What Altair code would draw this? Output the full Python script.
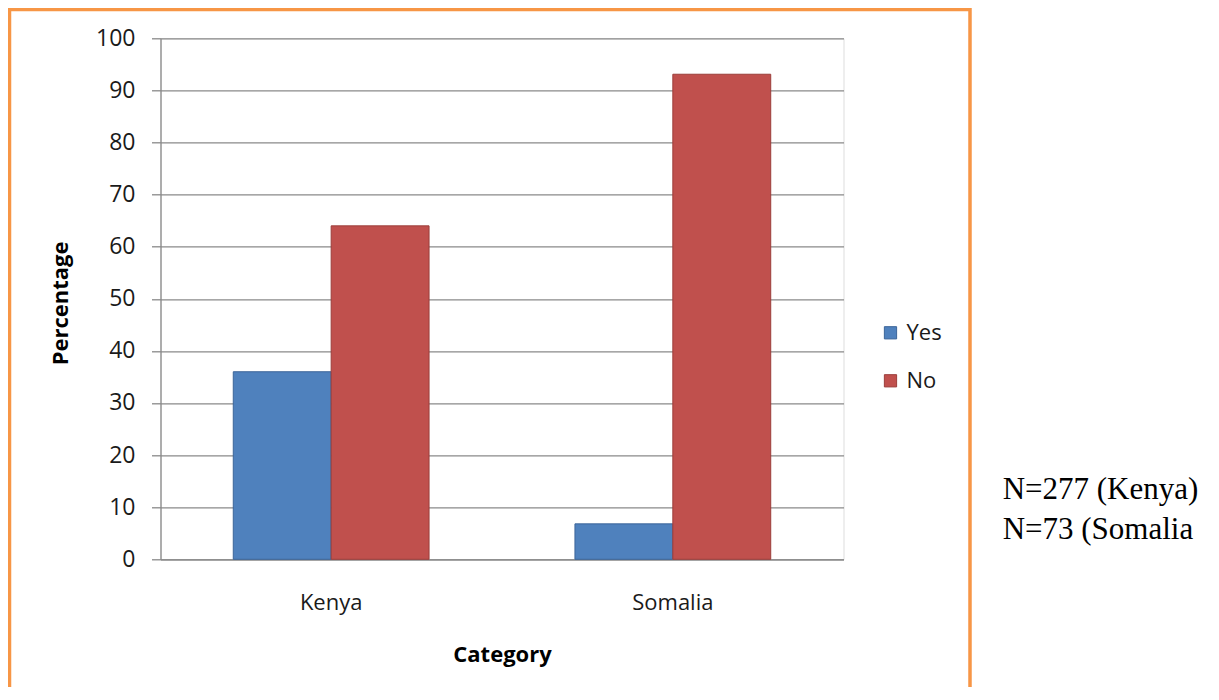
import altair as alt
import pandas as pd

categories = ["Kenya", "Somalia"]
answers = ["Yes", "No"]
yes_values = [36, 6.8]
no_values = [64, 93.1]
y_ticks = [0, 10, 20, 30, 40, 50, 60, 70, 80, 90, 100]
fill_colors = ["#4f81bd", "#c0504d"]
stroke_colors = ["#3b6499", "#9b3d3a"]
note_lines = ["N=277 (Kenya)", "N=73 (Somalia"]

rows = []
for i, c in enumerate(categories):
    rows.append({"Category": c, "answer": "Yes", "value": yes_values[i]})
    rows.append({"Category": c, "answer": "No", "value": no_values[i]})
df = pd.DataFrame(rows)

SANS = "Open Sans"
GRID = "#8a8a8a"

legend_props = dict(
    title=None,
    orient="none",
    legendX=719,
    legendY=283.5,
    padding=0,
    symbolType="square",
    symbolSize=150,
    symbolStrokeWidth=1,
    labelFont=SANS,
    labelFontSize=22,
    labelColor="#1a1a1a",
    labelOffset=5,
    rowPadding=26,
)

bars = alt.Chart(df).mark_bar(strokeWidth=1).encode(
    x=alt.X(
        "Category:N",
        sort=categories,
        scale=alt.Scale(paddingInner=0.427, paddingOuter=0.213),
        axis=alt.Axis(
            title="Category",
            labelAngle=0,
            ticks=False,
            tickSize=0,
            labelFont=SANS,
            labelFontSize=22,
            labelColor="#1a1a1a",
            labelBaseline="alphabetic",
            labelPadding=50.7,
            domainColor=GRID,
            domainWidth=1.3,
            titleFont=SANS,
            titleFontSize=22,
            titleFontWeight="bold",
            titleColor="#000000",
            titleBaseline="alphabetic",
            titleY=102.4,
            grid=False,
        ),
    ),
    xOffset=alt.XOffset(
        "answer:N", sort=answers, scale=alt.Scale(paddingInner=0, paddingOuter=0)
    ),
    y=alt.Y(
        "value:Q",
        scale=alt.Scale(domain=[0, 100], nice=False),
        axis=alt.Axis(
            title="Percentage",
            values=y_ticks,
            grid=True,
            gridColor=GRID,
            gridWidth=1.3,
            tickColor=GRID,
            tickWidth=1.3,
            tickSize=9,
            domainColor=GRID,
            domainWidth=1.3,
            labelFont=SANS,
            labelFontSize=23,
            labelColor="#1a1a1a",
            labelPadding=16.5,
            titleFont=SANS,
            titleFontSize=22,
            titleFontWeight="bold",
            titleColor="#000000",
            titleAngle=270,
            titleBaseline="alphabetic",
            titleX=-92.8,
            titleY=264.7,
        ),
    ),
    color=alt.Color(
        "answer:N",
        sort=answers,
        scale=alt.Scale(domain=answers, range=fill_colors),
        legend=alt.Legend(**legend_props),
    ),
    stroke=alt.Stroke(
        "answer:N",
        sort=answers,
        scale=alt.Scale(domain=answers, range=stroke_colors),
        legend=alt.Legend(**legend_props),
    ),
)

frame = alt.Chart(alt.Data(values=[{}])).mark_rect(
    fill=None, stroke="#f79646", strokeWidth=3.5
).encode(
    x=alt.value(-151),
    x2=alt.value(809.5),
    y=alt.value(-28.8),
    y2=alt.value(760),
)

note = alt.Chart(alt.Data(values=[{}])).mark_text(
    text="\n".join(note_lines),
    lineBreak="\n",
    lineHeight=40,
    font="Liberation Serif",
    fontSize=31,
    color="#000000",
    align="left",
    baseline="alphabetic",
).encode(
    x=alt.value(842.2),
    y=alt.value(461),
)

chart = alt.layer(bars, frame, note).properties(
    width=683,
    height=521,
    autosize=alt.AutoSizeParams(type="none"),
    padding={"left": 152.5, "top": 30.3, "right": 367, "bottom": 128},
).configure_view(
    fill="#e6e6e6", stroke=None
).configure(
    background="#ffffff"
)

chart.save("out.html", embed_options={"renderer": "svg", "actions": False})
